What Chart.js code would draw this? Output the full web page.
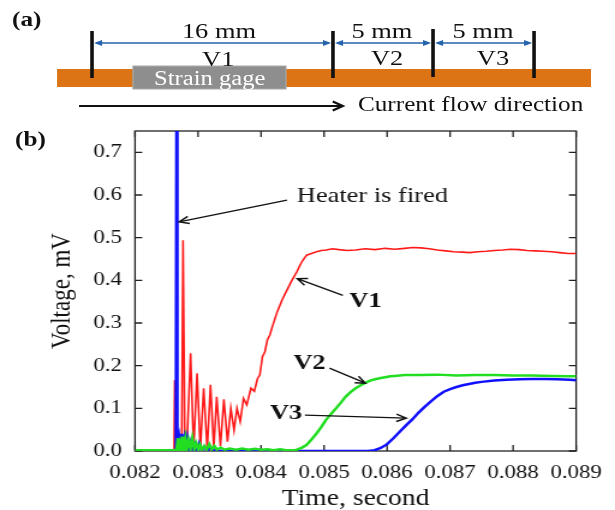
<!DOCTYPE html>
<html>
<head>
<meta charset="utf-8">
<script src="https://cdn.jsdelivr.net/npm/chart.js@4.4.1/dist/chart.umd.min.js"></script>
<style>
  html, body { margin: 0; padding: 0; background: #fff; overflow: hidden; }
  /* the figure is laid out 512px wide and stretched to 615px like the original */
  #page { position: absolute; left: 0; top: 0; width: 512px; height: 510px; transform: scaleX(1.2012); transform-origin: 0 0; }
  #wrap { position: absolute; left: 0; top: 0; width: 512px; height: 510px; }
  #sketch { position: absolute; left: 0; top: 0; pointer-events: none; }
  #sketch text { font-family: 'Liberation Serif', 'Times New Roman', serif; fill: #111; }
</style>
</head>
<body>
<div id="page">
  <div id="wrap"><canvas id="voltChart"></canvas></div>
  <svg id="sketch" width="512" height="160" viewBox="0 0 512 160">
    <text x="10" y="26" font-size="21" font-weight="bold">(a)</text>
    <text x="12.5" y="146.5" font-size="21" font-weight="bold">(b)</text>

    <rect x="47.5" y="69" width="444.5" height="18" fill="#dc7415"/>
    <rect x="110.7" y="66" width="127.4" height="23" fill="#8e8e8e" stroke="#a9a9a9" stroke-width="1"/>
    <text x="174.6" y="85" font-size="20.5" text-anchor="middle" style="fill:#fff">Strain gage</text>

    <g stroke="#111" stroke-width="3">
      <line x1="76.6" y1="31" x2="76.6" y2="78"/>
      <line x1="277.2" y1="31" x2="277.2" y2="78"/>
      <line x1="360.5" y1="29" x2="360.5" y2="77"/>
      <line x1="444.6" y1="31" x2="444.6" y2="78"/>
    </g>

    <g stroke="#2563ad" stroke-width="1.5">
      <line x1="80" y1="43" x2="274" y2="43"/>
      <line x1="281" y1="43" x2="357" y2="43"/>
      <line x1="364" y1="43" x2="441" y2="43"/>
    </g>
    <g fill="#2563ad">
      <polygon points="78.3,43 85,40 85,46"/>
      <polygon points="275.6,43 268.9,40 268.9,46"/>
      <polygon points="278.9,43 285.6,40 285.6,46"/>
      <polygon points="358.9,43 352.2,40 352.2,46"/>
      <polygon points="362.2,43 368.9,40 368.9,46"/>
      <polygon points="443,43 436.3,40 436.3,46"/>
    </g>

    <text x="182.3" y="38.3" font-size="22" text-anchor="middle">16 mm</text>
    <text x="181.7" y="66" font-size="22" text-anchor="middle">V1</text>
    <text x="318" y="38.3" font-size="22" text-anchor="middle">5 mm</text>
    <text x="322.2" y="65.5" font-size="22" text-anchor="middle">V2</text>
    <text x="402.1" y="38.3" font-size="22" text-anchor="middle">5 mm</text>
    <text x="410.4" y="65.5" font-size="22" text-anchor="middle">V3</text>

    <line x1="65.8" y1="106" x2="285" y2="106" stroke="#111" stroke-width="2"/>
    <polyline points="277,101.5 285.5,106 277,110.5" fill="none" stroke="#111" stroke-width="2"/>
    <text x="298" y="111.5" font-size="21">Current flow direction</text>
  </svg>
</div>

<script>
// -------------------------
// DATA (time in s, voltage in mV)
// -------------------------
const timeTicks = [0.082, 0.083, 0.084, 0.085, 0.086, 0.087, 0.088, 0.089];
const timeLabels = ["0.082", "0.083", "0.084", "0.085", "0.086", "0.087", "0.088", "0.089"];
const voltTicks = [0, 0.1, 0.2, 0.3, 0.4, 0.5, 0.6, 0.7];
const voltLabels = ["0.0", "0.1", "0.2", "0.3", "0.4", "0.5", "0.6", "0.7"];

// V1 (red)
const v1Time = [0.0820, 0.08262, 0.08263, 0.082645, 0.08270, 0.08274, 0.082762, 0.08279, 0.08282, 0.082882,
    0.08293, 0.082985, 0.083037, 0.083089, 0.083146, 0.083198, 0.08325, 0.083296, 0.083355, 0.08341,
    0.083467, 0.08352, 0.083571, 0.083618, 0.083669, 0.083722, 0.083773, 0.08384, 0.083893, 0.083944,
    0.08398, 0.084022, 0.08406, 0.0841, 0.08414, 0.084178, 0.084256, 0.084333, 0.084411, 0.084489,
    0.084567, 0.084644, 0.084722, 0.0848, 0.084878, 0.08496, 0.085033, 0.08513, 0.085236, 0.08537,
    0.0855, 0.08565, 0.085811, 0.08597, 0.086122, 0.086278, 0.08641, 0.086537, 0.08667, 0.086796,
    0.08693, 0.087056, 0.08719, 0.087315, 0.08744, 0.087574, 0.0877, 0.087833, 0.08796, 0.088093,
    0.08822, 0.088351, 0.08848, 0.088611, 0.08874, 0.088871, 0.089];
const v1Volt = [0, 0, 0.166, 0, 0.010, 0, 0.494, 0.020, 0.002, 0.229,
    0.003, 0.182, 0.004, 0.147, 0.005, 0.155, 0.006, 0.127, 0.012, 0.121,
    0.022, 0.100, 0.049, 0.100, 0.069, 0.123, 0.108, 0.147, 0.140, 0.170,
    0.178, 0.221, 0.232, 0.260, 0.272, 0.291, 0.326, 0.354, 0.377, 0.400,
    0.420, 0.443, 0.459, 0.463, 0.467, 0.470, 0.471, 0.474, 0.472, 0.470,
    0.471, 0.474, 0.472, 0.475, 0.473, 0.475, 0.477, 0.476, 0.474, 0.471,
    0.469, 0.467, 0.466, 0.465, 0.467, 0.468, 0.470, 0.471, 0.473, 0.472,
    0.470, 0.469, 0.468, 0.467, 0.465, 0.463, 0.463];

// V2 (green)
const v2Time = [0.0820, 0.0823, 0.0826, 0.08266, 0.08268, 0.08270, 0.08272, 0.08274, 0.08276, 0.08278,
    0.08280, 0.08282, 0.08285, 0.08288, 0.08291, 0.08294, 0.08297, 0.08300, 0.08303, 0.08306,
    0.08310, 0.08314, 0.08318, 0.08322, 0.08326, 0.08330, 0.08336, 0.08342, 0.0835, 0.0836,
    0.0837, 0.0838, 0.0839, 0.0840, 0.0841, 0.0842, 0.0843, 0.0844, 0.08455, 0.08465,
    0.08472, 0.08480, 0.08488, 0.08496, 0.08503, 0.08511, 0.08519, 0.08527, 0.08534, 0.08542,
    0.08550, 0.08558, 0.08566, 0.08573, 0.08581, 0.08590, 0.08597, 0.08605, 0.08612, 0.08628,
    0.0865, 0.0868, 0.0871, 0.0874, 0.0877, 0.0880, 0.0883, 0.0886, 0.0889, 0.0890];
const v2Volt = [0.002, 0.002, 0.002, 0.003, 0.030, 0.004, 0.020, 0.006, 0.034, 0.008,
    0.028, 0.004, 0.025, 0.006, 0.030, 0.005, 0.018, 0.004, 0.015, 0.003,
    0.012, 0.004, 0.016, 0.004, 0.012, 0.003, 0.008, 0.003, 0.006, 0.003,
    0.006, 0.003, 0.005, 0.003, 0.004, 0.002, 0.004, 0.002, 0.002, 0.008,
    0.014, 0.027, 0.041, 0.057, 0.073, 0.087, 0.100, 0.114, 0.127, 0.138,
    0.147, 0.154, 0.160, 0.165, 0.168, 0.171, 0.173, 0.175, 0.176, 0.178,
    0.178, 0.179, 0.177, 0.178, 0.178, 0.177, 0.177, 0.176, 0.175, 0.175];

// V3 (blue)
const v3Time = [0.0820, 0.08265, 0.08266, 0.08267, 0.08270, 0.08272, 0.08274, 0.08276, 0.08278, 0.08280,
    0.08283, 0.08286, 0.08289, 0.08292, 0.08295, 0.08298, 0.08302, 0.08306, 0.08310, 0.08315,
    0.08320, 0.08326, 0.0834, 0.0857, 0.0858, 0.0859, 0.0860, 0.0861, 0.0862, 0.0863,
    0.0864, 0.0865, 0.0866, 0.0867, 0.0868, 0.0869, 0.0870, 0.0871, 0.0872, 0.0873,
    0.0874, 0.0875, 0.0877, 0.0879, 0.0881, 0.0883, 0.0885, 0.0887, 0.0889, 0.0890];
const v3Volt = [0, 0, 0.8, 0, 0.030, 0.005, 0.040, 0.004, 0.025, 0.003,
    0.030, 0.004, 0.022, 0.003, 0.015, 0.002, 0.018, 0.002, 0.010, 0.002,
    0.008, 0.001, 0, 0, 0.002, 0.007, 0.016, 0.030, 0.045, 0.060,
    0.074, 0.090, 0.104, 0.117, 0.129, 0.139, 0.145, 0.150, 0.154, 0.157,
    0.160, 0.162, 0.165, 0.167, 0.168, 0.169, 0.169, 0.168, 0.167, 0.166];

// annotation texts and arrows, placed in data coordinates [time, voltage]
const notes = [
    { text: "Heater is fired", bold: false, align: "left", at: [0.084567, 0.596], from: [0.084411, 0.588], to: [0.08270, 0.537] },
    { text: "V1", bold: true, align: "center", at: [0.085656, 0.350], from: [0.085298, 0.365], to: [0.084574, 0.404] },
    { text: "V2", bold: true, align: "center", at: [0.084769, 0.205], from: [0.085085, 0.194], to: [0.085656, 0.159] },
    { text: "V3", bold: true, align: "center", at: [0.084396, 0.088], from: [0.084696, 0.084], to: [0.086304, 0.077] }
];

const serif = "'Liberation Serif', 'Times New Roman', serif";
const ink = "#111";

function toPoints(t, v) {
    return t.map((x, i) => ({ x: x, y: v[i] }));
}

function drawArrow(ctx, x1, y1, x2, y2) {
    const a = Math.atan2(y2 - y1, x2 - x1);
    const len = 9, spread = 0.42;
    ctx.beginPath();
    ctx.moveTo(x1, y1);
    ctx.lineTo(x2, y2);
    ctx.moveTo(x2 - len * Math.cos(a - spread), y2 - len * Math.sin(a - spread));
    ctx.lineTo(x2, y2);
    ctx.lineTo(x2 - len * Math.cos(a + spread), y2 - len * Math.sin(a + spread));
    ctx.stroke();
}

// frame with inward ticks on all four sides
const framePlugin = {
    id: "frame",
    beforeDatasetsDraw(chart) {
        const { ctx, chartArea: a, scales: { x, y } } = chart;
        ctx.save();
        ctx.strokeStyle = "#222";
        ctx.lineWidth = 1.3;
        ctx.strokeRect(a.left, a.top, a.right - a.left, a.bottom - a.top);
        ctx.beginPath();
        x.ticks.forEach(t => {
            const px = x.getPixelForValue(t.value);
            ctx.moveTo(px, a.bottom); ctx.lineTo(px, a.bottom - 6);
            ctx.moveTo(px, a.top); ctx.lineTo(px, a.top + 6);
        });
        y.ticks.forEach(t => {
            const py = y.getPixelForValue(t.value);
            ctx.moveTo(a.left, py); ctx.lineTo(a.left + 6, py);
            ctx.moveTo(a.right, py); ctx.lineTo(a.right - 6, py);
        });
        ctx.stroke();
        ctx.restore();
    }
};

const notesPlugin = {
    id: "notes",
    afterDatasetsDraw(chart) {
        const { ctx, scales: { x, y } } = chart;
        ctx.save();
        ctx.strokeStyle = ink;
        ctx.fillStyle = ink;
        ctx.lineWidth = 1.4;
        ctx.textBaseline = "middle";
        notes.forEach(n => {
            ctx.font = (n.bold ? "bold " : "") + "22px " + serif;
            ctx.textAlign = n.align;
            ctx.fillText(n.text, x.getPixelForValue(n.at[0]), y.getPixelForValue(n.at[1]));
            drawArrow(ctx,
                x.getPixelForValue(n.from[0]), y.getPixelForValue(n.from[1]),
                x.getPixelForValue(n.to[0]), y.getPixelForValue(n.to[1]));
        });
        ctx.restore();
    }
};

// -------------------------
// CHART
// -------------------------
const ctx = document.getElementById("voltChart").getContext("2d");

new Chart(ctx, {
    type: "line",
    data: {
        datasets: [
            { label: "V2", data: toPoints(v2Time, v2Volt), borderColor: "#22dd22", borderWidth: 2.5, order: 1 },
            { label: "V3", data: toPoints(v3Time, v3Volt), borderColor: "#1010ff", borderWidth: 2.5, order: 2 },
            { label: "V1", data: toPoints(v1Time, v1Volt), borderColor: "#ff1a1a", borderWidth: 1.6, order: 3 }
        ]
    },
    options: {
        responsive: true,
        maintainAspectRatio: false,
        animation: false,
        layout: { padding: { top: 131, right: 25, bottom: 0, left: 0 } },
        elements: { point: { radius: 0 }, line: { tension: 0 } },
        plugins: { legend: { display: false }, tooltip: { enabled: false } },
        scales: {
            x: {
                type: "linear",
                min: 0.082,
                max: 0.089,
                afterBuildTicks: s => { s.ticks = timeTicks.map(v => ({ value: v })); },
                afterFit: s => { s.height = 59; },
                grid: { display: false, drawTicks: false },
                border: { display: false },
                ticks: {
                    callback: (v, i) => timeLabels[i],
                    font: { family: serif, size: 19 },
                    color: ink,
                    padding: 11,
                    maxRotation: 0,
                    autoSkip: false
                },
                title: {
                    display: true,
                    text: "Time, second",
                    font: { family: serif, size: 23, lineHeight: 1 },
                    color: ink,
                    padding: 0
                }
            },
            y: {
                min: 0,
                max: 0.75,
                afterBuildTicks: s => { s.ticks = voltTicks.map(v => ({ value: v })); },
                afterFit: s => { s.width = 112.4; },
                grid: { display: false, drawTicks: false },
                border: { display: false },
                ticks: {
                    callback: (v, i) => voltLabels[i],
                    font: { family: serif, size: 19 },
                    color: ink,
                    padding: 11
                },
                title: {
                    display: true,
                    text: "Voltage, mV",
                    font: { family: serif, size: 23, lineHeight: 1 },
                    color: ink,
                    padding: { top: 40, bottom: 0 }
                }
            }
        }
    },
    plugins: [framePlugin, notesPlugin]
});
</script>
</body>
</html>
